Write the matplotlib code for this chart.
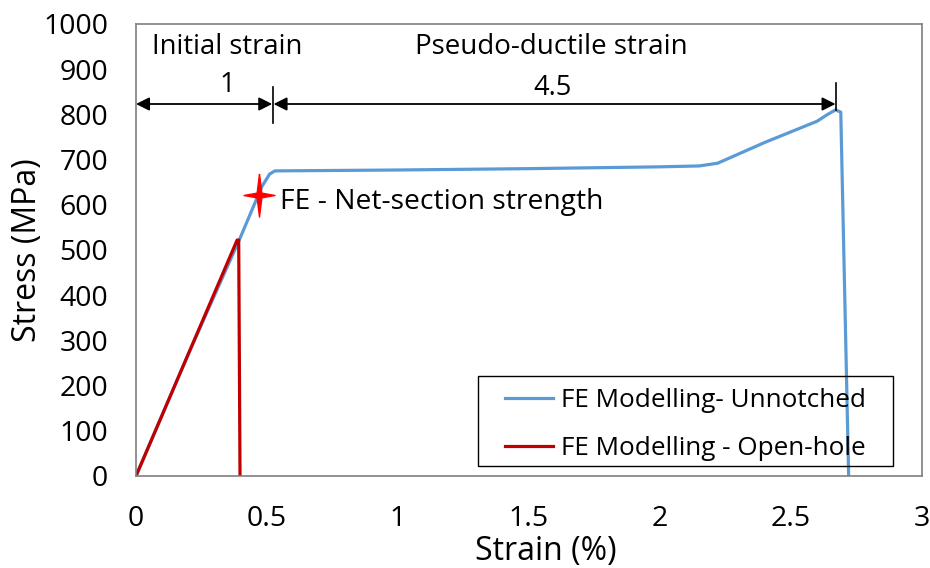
import numpy as np
import matplotlib.pyplot as plt
from matplotlib.patches import Rectangle

plt.rcParams['font.family'] = ['Open Sans', 'DejaVu Sans']

# FE unnotched curve (strain %, stress MPa)
unnotched_strain = [0, 0.1, 0.2, 0.3, 0.4, 0.48, 0.51, 0.53, 1.0, 1.5, 2.0, 2.15, 2.22, 2.4, 2.6, 2.64, 2.67, 2.69, 2.72]
unnotched_stress = [0, 135, 270, 400, 530, 640, 668, 675, 677, 680, 684, 686, 692, 738, 785, 800, 810, 805, 0]

# FE open-hole curve
openhole_strain = [0, 0.386, 0.392, 0.397]
openhole_stress = [0, 522, 522, 0]

# net-section strength point
net_strain = 0.469
net_stress = 622

# tall 4-point star marker
star = [(0, 1), (0.11, 0.11), (0.72, 0), (0.11, -0.11), (0, -1), (-0.11, -0.11), (-0.72, 0), (-0.11, 0.11), (0, 1)]

fig = plt.figure(figsize=(9.3, 5.68), dpi=100)
ax = fig.add_axes([136/930, 92/568, 786/930, 452/568])

ax.plot(unnotched_strain, unnotched_stress, color='#5B9BD5', lw=2.3, label='FE Modelling- Unnotched', solid_joinstyle='round')
ax.plot(openhole_strain, openhole_stress, color='#C00000', lw=2.3, label='FE Modelling - Open-hole')
ax.plot(net_strain, net_stress, marker=star, color='red', mec='red', ms=31, ls='none')
ax.text(0.55, net_stress - 15, 'FE - Net-section strength', fontsize=20.3, va='center')

# strain annotations
ax.annotate('', xy=(0.0, 823), xytext=(0.52, 823),
            arrowprops=dict(arrowstyle='<|-|>', color='k', lw=1.3, mutation_scale=20, shrinkA=0, shrinkB=0))
ax.annotate('', xy=(0.525, 823), xytext=(2.67, 823),
            arrowprops=dict(arrowstyle='<|-|>', color='k', lw=1.3, mutation_scale=20, shrinkA=0, shrinkB=0))
ax.plot([0.522, 0.522], [780, 860], color='k', lw=1.2)
ax.plot([2.672, 2.672], [810, 870], color='k', lw=1.2)
ax.text(0.06, 949, 'Initial strain', fontsize=19.7, va='center')
ax.text(0.35, 865, '1', fontsize=19.7, va='center', ha='center')
ax.text(1.065, 949, 'Pseudo-ductile strain', fontsize=20, va='center')
ax.text(1.59, 858, '4.5', fontsize=19.7, va='center', ha='center')

ax.set_xlim(0, 3)
ax.set_ylim(0, 1000)
ax.set_xticks(np.arange(0, 3.01, 0.5))
ax.set_xticklabels(['0', '0.5', '1', '1.5', '2', '2.5', '3'])
ax.set_yticks(np.arange(0, 1001, 100))
ax.tick_params(length=0, labelsize=20.5)
ax.tick_params(axis='x', pad=21)
ax.tick_params(axis='y', pad=20)
for s in ax.spines.values():
    s.set_color('#7f7f7f')
    s.set_linewidth(1.2)
ax.set_xlabel('Strain (%)', fontsize=23)
ax.set_ylabel('Stress (MPa)', fontsize=23)
ax.xaxis.set_label_coords(0.522, -0.13)
ax.yaxis.set_label_coords(-0.117, 0.5)

# legend, with a frame drawn to match the original box
leg = ax.legend(loc='upper left', bbox_to_anchor=(0.469, 0.195), fontsize=18.8, frameon=False,
                handlelength=1.85, handletextpad=0.3, borderpad=0, borderaxespad=0,
                labelspacing=0.9)
ax.add_patch(Rectangle((0.435, 0.022), 0.528, 0.199, transform=ax.transAxes,
                       fill=False, edgecolor='k', lw=1.0, zorder=5))

fig.savefig('out.png', dpi=100)
